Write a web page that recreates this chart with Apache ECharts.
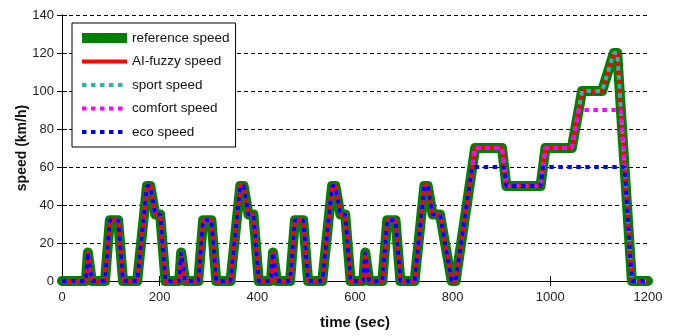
<!DOCTYPE html>
<html>
<head>
<meta charset="utf-8">
<script src="https://cdn.jsdelivr.net/npm/echarts@6/dist/echarts.min.js"></script>
<style>
  html, body { margin: 0; padding: 0; background: #fff; }
  #main { width: 682px; height: 336px; }
</style>
</head>
<body>
<div id="main"></div>
<script>
// reference / AI-fuzzy / sport speed (km/h) over time (sec)
var refTime = [0, 49, 53, 57, 61, 88, 98, 115, 125, 154, 174, 181, 191, 201, 212,
    240, 244, 248, 252, 279, 289, 306, 316, 345, 365, 372, 382, 392, 403,
    428, 432, 436, 440, 467, 477, 494, 504, 533, 553, 560, 570, 580, 591,
    617, 621, 625, 629, 656, 666, 683, 693, 722, 742, 749, 759, 774, 798,
    806, 846, 901, 910, 980, 990, 1044, 1065, 1106, 1130, 1137, 1167, 1200];
var refSpeed = [0, 0, 15, 15, 0, 0, 32, 32, 0, 0, 50, 50, 35, 35, 0,
    0, 15, 15, 0, 0, 32, 32, 0, 0, 50, 50, 35, 35, 0,
    0, 15, 15, 0, 0, 32, 32, 0, 0, 50, 50, 35, 35, 0,
    0, 15, 15, 0, 0, 32, 32, 0, 0, 50, 50, 35, 35, 0,
    0, 70, 70, 50, 50, 70, 70, 100, 100, 120, 120, 0, 0];
var aiFuzzySpeed = refSpeed;
var sportSpeed = refSpeed;

// comfort speed, capped near 90
var comfortTime = [0, 49, 53, 57, 61, 88, 98, 115, 125, 154, 174, 181, 191, 201, 212,
    240, 244, 248, 252, 279, 289, 306, 316, 345, 365, 372, 382, 392, 403,
    428, 432, 436, 440, 467, 477, 494, 504, 533, 553, 560, 570, 580, 591,
    617, 621, 625, 629, 656, 666, 683, 693, 722, 742, 749, 759, 774, 798,
    806, 846, 901, 910, 980, 990, 1044, 1058, 1144, 1167, 1200];
var comfortSpeed = [0, 0, 15, 15, 0, 0, 32, 32, 0, 0, 50, 50, 35, 35, 0,
    0, 15, 15, 0, 0, 32, 32, 0, 0, 50, 50, 35, 35, 0,
    0, 15, 15, 0, 0, 32, 32, 0, 0, 50, 50, 35, 35, 0,
    0, 15, 15, 0, 0, 32, 32, 0, 0, 50, 50, 35, 35, 0,
    0, 70, 70, 50, 50, 70, 70, 90, 90, 0, 0];

// eco speed, capped near 60
var ecoTime = [0, 49, 53, 57, 61, 88, 98, 115, 125, 154, 174, 181, 191, 201, 212,
    240, 244, 248, 252, 279, 289, 306, 316, 345, 365, 372, 382, 392, 403,
    428, 432, 436, 440, 467, 477, 494, 504, 533, 553, 560, 570, 580, 591,
    617, 621, 625, 629, 656, 666, 683, 693, 722, 742, 749, 759, 774, 798,
    806, 840, 905, 910, 980, 985, 1152, 1167, 1200];
var ecoSpeed = [0, 0, 15, 15, 0, 0, 32, 32, 0, 0, 50, 50, 35, 35, 0,
    0, 15, 15, 0, 0, 32, 32, 0, 0, 50, 50, 35, 35, 0,
    0, 15, 15, 0, 0, 32, 32, 0, 0, 50, 50, 35, 35, 0,
    0, 15, 15, 0, 0, 32, 32, 0, 0, 50, 50, 35, 35, 0,
    0, 60, 60, 50, 50, 60, 60, 0, 0];

var seriesNames = ['reference speed', 'AI-fuzzy speed', 'sport speed', 'comfort speed', 'eco speed'];

function pairs(t, v) {
    var out = [];
    for (var i = 0; i < t.length; i++) {
        out.push([t[i], v[i]]);
    }
    return out;
}

var font = 'Liberation Sans, Arial, sans-serif';
var dots = [4.5, 4.5];
var noMarker = { opacity: 0 };

var myChart = echarts.init(document.getElementById('main'));
var option = {
    animation: false,
    backgroundColor: '#ffffff',
    grid: { left: 62, right: 34, top: 15, bottom: 55 },
    legend: {
        orient: 'vertical',
        left: 72,
        top: 23,
        padding: [8, 6, 8, 5],
        itemGap: 9.5,
        itemWidth: 45,
        itemHeight: 14,
        itemTextGap: 3,
        backgroundColor: '#ffffff',
        borderColor: '#000000',
        borderWidth: 1,
        textStyle: { fontFamily: font, fontSize: 13.5, color: '#111' },
        data: [
            { name: seriesNames[0], itemStyle: noMarker, lineStyle: { width: 10, cap: 'butt' } },
            { name: seriesNames[1], itemStyle: noMarker, lineStyle: { width: 4, cap: 'butt' } },
            { name: seriesNames[2], itemStyle: noMarker, lineStyle: { width: 4, type: dots, cap: 'butt' } },
            { name: seriesNames[3], itemStyle: noMarker, lineStyle: { width: 4, type: dots, cap: 'butt' } },
            { name: seriesNames[4], itemStyle: noMarker, lineStyle: { width: 4, type: dots, cap: 'butt' } }
        ]
    },
    xAxis: [
        {
            type: 'value',
            min: 0, max: 1200, interval: 200,
            name: 'time (sec)',
            nameLocation: 'middle',
            nameGap: 34,
            nameTextStyle: { fontFamily: font, fontSize: 15, fontWeight: 'bold', color: '#111' },
            axisLine: { lineStyle: { color: '#000', width: 1 } },
            axisTick: { inside: true, length: 5, lineStyle: { color: '#000' } },
            axisLabel: { fontFamily: font, fontSize: 13, color: '#222', margin: 10,
                formatter: function (v) { return String(v); } },
            splitLine: { show: false }
        },
        {
            type: 'value', position: 'top',
            min: 0, max: 1200, interval: 200,
            axisLine: { lineStyle: { color: '#000', width: 1 } },
            axisTick: { inside: true, length: 5, lineStyle: { color: '#000' } },
            axisLabel: { show: false },
            splitLine: { show: false }
        }
    ],
    yAxis: [
        {
            type: 'value',
            min: 0, max: 140, interval: 20,
            name: 'speed (km/h)',
            nameLocation: 'middle',
            nameGap: 33,
            nameMoveOverlap: false,
            nameTextStyle: { fontFamily: font, fontSize: 14, fontWeight: 'bold', color: '#111' },
            axisLine: { show: true, lineStyle: { color: '#000', width: 1 } },
            axisTick: { show: true, inside: true, length: 5, lineStyle: { color: '#000' } },
            axisLabel: { fontFamily: font, fontSize: 13, color: '#222', margin: 8 },
            splitLine: { show: true, lineStyle: { color: '#000', type: [4, 3], width: 1 } }
        },
        {
            type: 'value', position: 'right',
            min: 0, max: 140, interval: 20,
            axisLine: { show: true, lineStyle: { color: '#000', width: 1 } },
            axisTick: { show: true, inside: true, length: 5, lineStyle: { color: '#000' } },
            axisLabel: { show: false },
            splitLine: { show: false }
        }
    ],
    series: [
        {
            name: seriesNames[0], type: 'line', symbol: 'none',
            data: pairs(refTime, refSpeed),
            lineStyle: { color: '#007f00', width: 10, join: 'round', cap: 'round' },
            itemStyle: { color: '#007f00' }
        },
        {
            name: seriesNames[1], type: 'line', symbol: 'none',
            data: pairs(refTime, aiFuzzySpeed),
            lineStyle: { color: '#ff0000', width: 4, join: 'round' },
            itemStyle: { color: '#ff0000' }
        },
        {
            name: seriesNames[2], type: 'line', symbol: 'none',
            data: pairs(refTime, sportSpeed),
            lineStyle: { color: '#2cb5ae', width: 4, type: dots, cap: 'butt' },
            itemStyle: { color: '#2cb5ae' }
        },
        {
            name: seriesNames[3], type: 'line', symbol: 'none',
            data: pairs(comfortTime, comfortSpeed),
            lineStyle: { color: '#ff00ff', width: 4, type: dots, cap: 'butt' },
            itemStyle: { color: '#ff00ff' }
        },
        {
            name: seriesNames[4], type: 'line', symbol: 'none',
            data: pairs(ecoTime, ecoSpeed),
            lineStyle: { color: '#0000ff', width: 4, type: dots, cap: 'butt' },
            itemStyle: { color: '#0000ff' }
        }
    ]
};
myChart.setOption(option);
</script>
</body>
</html>
